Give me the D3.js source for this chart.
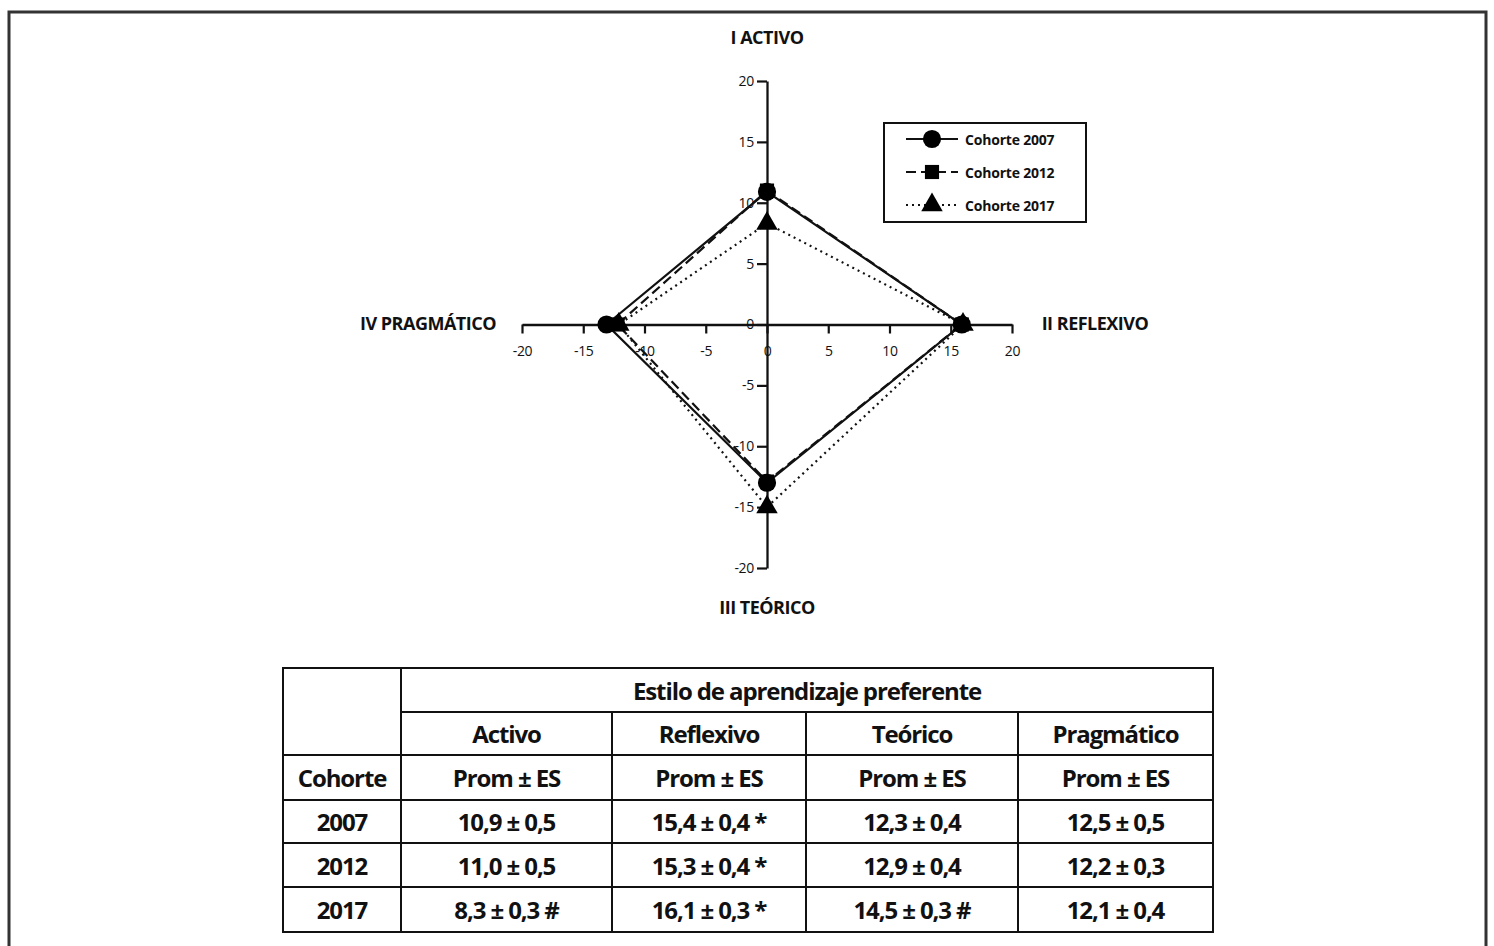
<!DOCTYPE html>
<html>
<head>
<meta charset="utf-8">
<script src="https://cdn.jsdelivr.net/npm/d3@7"></script>
<style>
  body { margin: 0; background: #fff; }
  svg { display: block; }
  text { font-family: "Open Sans", "Noto Sans", sans-serif; fill: #111; }
</style>
</head>
<body>
<svg id="chart" width="1494" height="946"></svg>
<script>
// axis labels (quadrants), order: top, right, bottom, left
var styles = ["I ACTIVO", "II REFLEXIVO", "III TEÓRICO", "IV PRAGMÁTICO"];
var ticks = [-20, -15, -10, -5, 0, 5, 10, 15, 20];

// values as plotted: Activo, Reflexivo, Teórico, Pragmático
var cohorts = ["Cohorte 2007", "Cohorte 2012", "Cohorte 2017"];
var values2007 = [10.9, 15.9, 13.0, 13.1];
var values2012 = [11.0, 15.9, 12.9, 12.2];
var values2017 = [8.3, 16.0, 15.0, 12.1];

// table
var tableStyles = ["Activo", "Reflexivo", "Teórico", "Pragmático"];
var tableYears = ["2007", "2012", "2017"];
var tableRows = [
    ["10,9 ± 0,5", "15,4 ± 0,4 *", "12,3 ± 0,4", "12,5 ± 0,5"],
    ["11,0 ± 0,5", "15,3 ± 0,4 *", "12,9 ± 0,4", "12,2 ± 0,3"],
    ["8,3 ± 0,3 #", "16,1 ± 0,3 *", "14,5 ± 0,3 #", "12,1 ± 0,4"]
];

var svg = d3.select("#chart");

// outer frame
svg.append("rect")
    .attr("x", 9).attr("y", 12)
    .attr("width", 1477).attr("height", 960)
    .attr("fill", "none")
    .attr("stroke", "#333")
    .attr("stroke-width", 3);

var x = d3.scaleLinear().domain([-20, 20]).range([522, 1012]);
var y = d3.scaleLinear().domain([-20, 20]).range([568, 81]);

/*================ axes ================*/
// plain hyphen for negatives, like the original
var fmt = function (d) { return String(d); };
var xAxis = svg.append("g")
    .attr("transform", "translate(0," + y(0) + ")")
    .call(d3.axisBottom(x).tickValues(ticks).tickFormat(fmt).tickSize(9).tickSizeOuter(0).tickPadding(13));
var yAxis = svg.append("g")
    .attr("transform", "translate(" + x(0) + ",0)")
    .call(d3.axisLeft(y).tickValues(ticks).tickFormat(fmt).tickSize(10).tickSizeOuter(0).tickPadding(3));

[xAxis, yAxis].forEach(function (g) {
    g.select(".domain").attr("stroke", "#111").attr("stroke-width", 2.3);
    g.selectAll(".tick line").attr("stroke", "#111").attr("stroke-width", 2.2);
    g.selectAll(".tick text")
        .style("font-family", "'Open Sans', sans-serif")
        .style("font-size", "14px")
        .style("letter-spacing", "-0.3px")
        .attr("fill", "#111");
});

// quadrant titles
var titlePos = [
    [x(0), 37],
    [1095, y(0) - 2],
    [x(0), 607],
    [428, y(0) - 2]
];
svg.selectAll(".qtitle")
    .data(styles)
    .enter().append("text")
    .attr("class", "qtitle")
    .attr("x", function (d, i) { return titlePos[i][0]; })
    .attr("y", function (d, i) { return titlePos[i][1]; })
    .attr("text-anchor", "middle")
    .attr("dominant-baseline", "central")
    .style("font-size", "18px")
    .style("font-weight", "700")
    .style("letter-spacing", "-0.5px")
    .text(function (d) { return d; });

/*================ series ================*/
function toPoints(vals) {
    return [
        [x(0), y(vals[0])],
        [x(vals[1]), y(0)],
        [x(0), y(-vals[2])],
        [x(-vals[3]), y(0)]
    ];
}

var series = [
    { name: cohorts[2], vals: values2017, dash: "2,4", shape: d3.symbolTriangle, size: 200 },
    { name: cohorts[1], vals: values2012, dash: "10,5", shape: d3.symbolSquare, size: 200 },
    { name: cohorts[0], vals: values2007, dash: null, shape: d3.symbolCircle, size: 260 }
];

var line = d3.line().curve(d3.curveLinearClosed);

series.forEach(function (s) {
    var pts = toPoints(s.vals);
    svg.append("path")
        .attr("d", line(pts))
        .attr("fill", "none")
        .attr("stroke", "#111")
        .attr("stroke-width", 2.2)
        .attr("stroke-dasharray", s.dash);
});
series.forEach(function (s) {
    var pts = toPoints(s.vals);
    svg.selectAll(null)
        .data(pts)
        .enter().append("path")
        .attr("transform", function (p) { return "translate(" + p[0] + "," + p[1] + ")"; })
        .attr("d", d3.symbol().type(s.shape).size(s.size))
        .attr("fill", "#000");
});

/*================ legend ================*/
var legend = svg.append("g").attr("transform", "translate(884,123)");
legend.append("rect")
    .attr("width", 202).attr("height", 99)
    .attr("fill", "#fff")
    .attr("stroke", "#111")
    .attr("stroke-width", 2);

var legendItems = series.slice().reverse();
legendItems.forEach(function (s, i) {
    var cy = 16 + i * 33;
    legend.append("line")
        .attr("x1", 22).attr("x2", 74)
        .attr("y1", cy).attr("y2", cy)
        .attr("stroke", "#111")
        .attr("stroke-width", 2)
        .attr("stroke-dasharray", s.dash);
    legend.append("path")
        .attr("transform", "translate(48," + cy + ")")
        .attr("d", d3.symbol().type(s.shape).size(s.size))
        .attr("fill", "#000");
    legend.append("text")
        .attr("x", 81).attr("y", cy)
        .attr("dominant-baseline", "central")
        .style("font-size", "14px")
        .style("font-weight", "700")
        .style("letter-spacing", "-0.2px")
        .text(s.name);
});

/*================ table ================*/
var colX = [283, 401, 612, 806, 1018, 1213];
var rowY = [668, 712, 755, 800, 843, 887, 932];
var tbl = svg.append("g");

function hline(x1, x2, yy) {
    tbl.append("line").attr("x1", x1).attr("x2", x2).attr("y1", yy).attr("y2", yy)
        .attr("stroke", "#111").attr("stroke-width", 2);
}
function vline(xx, y1, y2) {
    tbl.append("line").attr("x1", xx).attr("x2", xx).attr("y1", y1).attr("y2", y2)
        .attr("stroke", "#111").attr("stroke-width", 2);
}

tbl.append("rect")
    .attr("x", colX[0]).attr("y", rowY[0])
    .attr("width", colX[5] - colX[0]).attr("height", rowY[6] - rowY[0])
    .attr("fill", "none").attr("stroke", "#111").attr("stroke-width", 2);

hline(colX[1], colX[5], rowY[1]);
for (var r = 2; r < 6; r++) hline(colX[0], colX[5], rowY[r]);
vline(colX[1], rowY[0], rowY[6]);
for (var c = 2; c < 5; c++) vline(colX[c], rowY[1], rowY[6]);

function cell(txt, cx, cy) {
    tbl.append("text")
        .attr("x", cx).attr("y", cy)
        .attr("text-anchor", "middle")
        .attr("dominant-baseline", "central")
        .style("font-size", "24px")
        .style("font-weight", "700")
        .style("letter-spacing", "-1.1px")
        .text(txt);
}
function mid(a, b) { return (a + b) / 2; }

cell("Estilo de aprendizaje preferente", mid(colX[1], colX[5]), mid(rowY[0], rowY[1]));
tableStyles.forEach(function (t, i) {
    cell(t, mid(colX[i + 1], colX[i + 2]), mid(rowY[1], rowY[2]));
    cell("Prom ± ES", mid(colX[i + 1], colX[i + 2]), mid(rowY[2], rowY[3]));
});
cell("Cohorte", mid(colX[0], colX[1]), mid(rowY[2], rowY[3]));
tableYears.forEach(function (yr, r) {
    cell(yr, mid(colX[0], colX[1]), mid(rowY[r + 3], rowY[r + 4]));
    tableRows[r].forEach(function (v, i) {
        cell(v, mid(colX[i + 1], colX[i + 2]), mid(rowY[r + 3], rowY[r + 4]));
    });
});
</script>
</body>
</html>
